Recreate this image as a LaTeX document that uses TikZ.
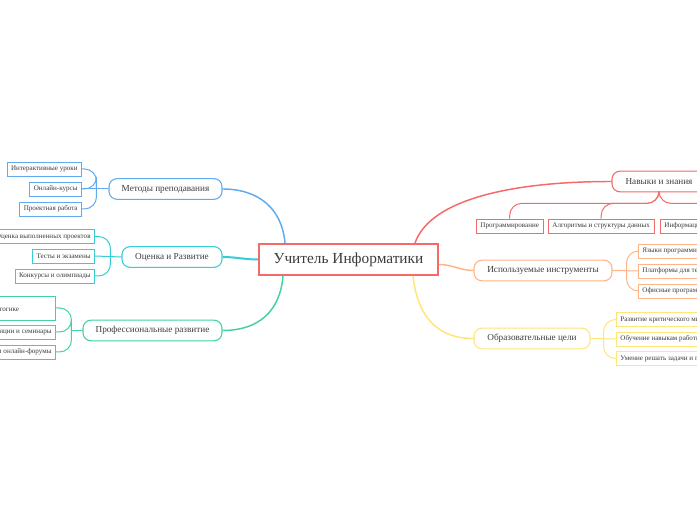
\documentclass[tikz,border=0pt]{standalone}
\usepackage{fontspec}
\setmainfont{Liberation Serif}
\usepackage{xcolor}
\usepackage{tikz}
\usetikzlibrary{calc}
\definecolor{rootred}{RGB}{245, 105, 105}
\definecolor{methblue}{RGB}{95, 170, 240}
\definecolor{ocencyan}{RGB}{55, 205, 215}
\definecolor{profgreen}{RGB}{65, 210, 160}
\definecolor{ispolorange}{RGB}{255, 180, 135}
\definecolor{obrazyellow}{RGB}{255, 230, 120}
\definecolor{textgray}{RGB}{60, 60, 60}

\begin{document}
\begin{tikzpicture}[x=0.75pt, y=-0.75pt,
  rootbox/.style={draw=rootred, line width=1.5pt, fill=white, text=textgray,
                  minimum width=134.25pt, minimum height=23.25pt, inner sep=0pt,
                  font=\fontsize{11.5}{13.5}\selectfont},
  branch/.style={line width=0.8pt, fill=white, rounded corners=6pt, text=textgray,
                 minimum height=15.5pt, inner sep=0pt, font=\fontsize{6.9}{8.3}\selectfont},
  leaf/.style={line width=0.6pt, fill=white, text=textgray, minimum height=10.5pt,
               inner xsep=3pt, inner ysep=0pt, font=\fontsize{5.3}{6.8}\selectfont},
  mainlink/.style={line width=1.1pt},
  sublink/.style={line width=0.75pt, rounded corners=9pt}]

\fill[white] (0,0) rectangle (697,520);
\useasboundingbox (0,0) rectangle (697,520);
\clip (0,0) rectangle (697,520);

% root
\node[rootbox] (root) at (348.5,259.5) {Учитель Информатики};

% left branches
\node[branch, draw=methblue, minimum width=84.75pt] (meth) at (165.5,189) {Методы преподавания};
\node[branch, draw=ocencyan, minimum width=75pt] (ocen) at (172,257) {Оценка и Развитие};
\node[branch, draw=profgreen, minimum width=104.25pt] (prof) at (152.5,330.5) {Профессиональные развитие};

% right branches
\node[branch, draw=rootred, minimum width=70.5pt] (navy) at (659,181.5) {Навыки и знания};
\node[branch, draw=ispolorange, minimum width=103.5pt] (ispol) at (543,270.5) {Используемые инструменты};
\node[branch, draw=obrazyellow, minimum width=87pt] (obraz) at (532,338.5) {Образовательные цели};

% root links
\draw[mainlink, methblue] ($(root.north west)+(27,0)$) .. controls (282,208) and (258,189) .. (meth.east);
\draw[mainlink, ocencyan, line width=1.5pt] (root.west) to[out=180, in=0] (ocen.east);
\draw[mainlink, profgreen] ($(root.south west)+(25,0)$) .. controls (280,312) and (258,330.5) .. (prof.east);
\draw[mainlink, rootred] ($(root.north east)+(-24,0)$) .. controls (430,200) and (510,181.5) .. (navy.west);
\draw[mainlink, ispolorange] ($(root.east)+(0,5)$) to[out=0, in=180] (ispol.west);
\draw[mainlink, obrazyellow] ($(root.south east)+(-26,0)$) .. controls (418,320) and (440,338.5) .. (obraz.west);

% methods leaves
\node[leaf, draw=methblue, anchor=east] (m1) at (82,169) {Интерактивные уроки};
\node[leaf, draw=methblue, anchor=east] (m2) at (82,189) {Онлайн-курсы};
\node[leaf, draw=methblue, anchor=east] (m3) at (82,209) {Проектная работа};
\foreach \c in {m1,m2,m3}
  \draw[sublink, methblue] (\c.east) -| ($(meth.west)+(-12,0)$);
\draw[sublink, methblue] (m2.east) -- (meth.west);

% assessment leaves
\node[leaf, draw=ocencyan, anchor=east] (o1) at (95,236.5) {Оценка выполненных проектов};
\node[leaf, draw=ocencyan, anchor=east] (o2) at (95,256) {Тесты и экзамены};
\node[leaf, draw=ocencyan, anchor=east] (o3) at (95,276) {Конкурсы и олимпиады};
\foreach \c in {o1,o3}
  \draw[sublink, ocencyan] (\c.east) -| ($(ocen.west)+(-11,0)$);
\draw[sublink, ocencyan] (o2.east) -- (ocen.west);

% professional leaves
\node[leaf, draw=profgreen, anchor=east, minimum height=18pt, text width=84pt, align=left] (p1) at (56,308) {\mbox{}\\Литература по педагогике};
\node[leaf, draw=profgreen, anchor=east] (p2) at (56,332) {Конференции и семинары};
\node[leaf, draw=profgreen, anchor=east] (p3) at (56,352) {Сообщества и онлайн-форумы};
\foreach \c in {p1,p2,p3}
  \draw[sublink, profgreen] (\c.east) -| ($(prof.west)+(-11,0)$);
\draw[profgreen, line width=0.75pt] ($(prof.west)+(-11,0)$) -- (prof.west);

% skills leaves
\node[leaf, draw=rootred, anchor=west] (n1) at (476,226) {Программирование};
\node[leaf, draw=rootred, anchor=west] (n2) at (548,226) {Алгоритмы и структуры данных};
\node[leaf, draw=rootred, anchor=west] (n3) at (660,226) {Информационная безопасность};
\foreach \c in {n1,n2,n3}
  \draw[sublink, rootred] (navy.south) -- ++(0,11) -| (\c.north);

% tools leaves
\node[leaf, draw=ispolorange, anchor=west] (i1) at (638,251) {Языки программирования};
\node[leaf, draw=ispolorange, anchor=west] (i2) at (638,271) {Платформы для тестирования};
\node[leaf, draw=ispolorange, anchor=west] (i3) at (638,291) {Офисные программы};
\foreach \c in {i1,i3}
  \draw[sublink, ispolorange] ($(ispol.east)+(14,0)$) |- (\c.west);
\draw[ispolorange, line width=0.75pt] (ispol.east) -- (i2.west);

% goals leaves
\node[leaf, draw=obrazyellow, anchor=west] (g1) at (616,319.5) {Развитие критического мышления};
\node[leaf, draw=obrazyellow, anchor=west] (g2) at (616,339) {Обучение навыкам работы с компьютером};
\node[leaf, draw=obrazyellow, anchor=west] (g3) at (616,358.5) {Умение решать задачи и проблемы};
\foreach \c in {g1,g3}
  \draw[sublink, obrazyellow] ($(obraz.east)+(13,0)$) |- (\c.west);
\draw[obrazyellow, line width=0.75pt] (obraz.east) -- (g2.west);

\end{tikzpicture}
\end{document}
